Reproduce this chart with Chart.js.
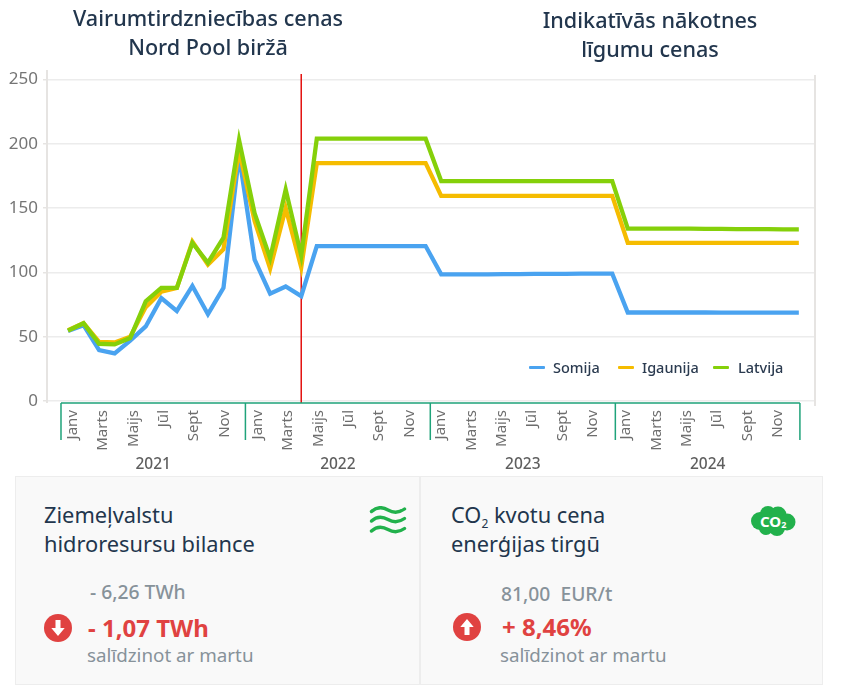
<!DOCTYPE html>
<html>
<head>
<meta charset="utf-8">
<script src="https://cdn.jsdelivr.net/npm/chart.js@4"></script>
<style>
html, body { margin: 0; padding: 0; background: #fff; }
body { position: relative; width: 842px; height: 686px; overflow: hidden; font-family: "Noto Sans", sans-serif; color: #22364d; }
canvas { position: absolute; left: 0; top: 0; }
.t { position: absolute; white-space: nowrap; }
.head { font-size: 21.6px; line-height: 29px; text-align: center; transform: translateX(-50%); color: #22364d; font-weight: 500; }
.card { position: absolute; top: 476px; height: 209px; box-sizing: border-box; background: #f9f9f9; border: 1px solid #ededed; }
.title { font-size: 21.8px; line-height: 29px; color: #22364d; }
.title sub { font-size: 12px; line-height: 0; }
.val { font-size: 19.3px; line-height: 22px; color: #87929a; font-weight: 500; }
.delta { font-size: 24px; line-height: 30px; color: #e04241; font-weight: 700; }
.note { font-size: 18.8px; line-height: 22px; color: #87929a; }
.leg { font-size: 14.5px; line-height: 18px; font-weight: 500; color: #2b3b50; }
.sw { position: absolute; width: 16px; height: 3px; border-radius: 1px; top: 366px; }
svg { position: absolute; }
</style>
</head>
<body>
<canvas id="price-chart" width="842" height="476"></canvas>

<div class="t head" style="left:208px;top:3px">Vairumtirdzniecības cenas<br>Nord Pool biržā</div>
<div class="t head" style="left:650px;top:5px">Indikatīvās nākotnes<br>līgumu cenas</div>

<div id="legend"></div>

<div class="card" style="left:15px;width:405px"></div>
<div class="card" style="left:420px;width:403px"></div>

<div class="t title" style="left:44px;top:500px">Ziemeļvalstu<br>hidroresursu bilance</div>
<div class="t val" style="left:90px;top:581px">- 6,26 TWh</div>
<div class="t delta" style="left:88px;top:613px">- 1,07 TWh</div>
<div class="t note" style="left:87px;top:644px">salīdzinot ar martu</div>

<div class="t title" style="left:451px;top:500px">CO<sub>2</sub> kvotu cena<br>enerģijas tirgū</div>
<div class="t val" style="left:501px;top:583px">81,00 &nbsp;EUR/t</div>
<div class="t delta" style="left:502px;top:612px">+ 8,46%</div>
<div class="t note" style="left:500px;top:644px">salīdzinot ar martu</div>

<svg style="left:44px;top:614px" width="28" height="28" viewBox="0 0 28 28">
	<circle cx="14" cy="14" r="14" fill="#e04241"/>
	<path d="M11.5 6h5v8h4.2L14 22 7.3 14h4.2z" fill="#fff"/>
</svg>
<svg style="left:453px;top:613px" width="28" height="28" viewBox="0 0 28 28">
	<circle cx="14" cy="14" r="14" fill="#e04241"/>
	<path d="M11.5 22h5v-8h4.2L14 6 7.3 14h4.2z" fill="#fff"/>
</svg>

<svg style="left:369px;top:506px" width="38" height="28" viewBox="0 0 38 28" fill="none" stroke="#22b14c" stroke-width="3.4" stroke-linecap="round">
	<path d="M2.5 5.5C8 .5 13 .5 19 4s11 3 16.500-1"/>
	<path d="M2.500 15C8 10 13 10 19 13.500s11 3 16.500-1"/>
	<path d="M2.500 25C8 20 13 20 19 23.500s11 3 16.500-1"/>
</svg>

<svg style="left:750px;top:505px" width="46" height="32" viewBox="0 0 46 32">
	<g fill="#22b14c">
		<circle cx="10" cy="16" r="9"/>
		<circle cx="18" cy="9" r="8"/>
		<circle cx="28" cy="10" r="8.500"/>
		<circle cx="37" cy="17" r="8.500"/>
		<circle cx="27" cy="23" r="8"/>
		<circle cx="16" cy="23" r="7"/>
	</g>
	<text x="10" y="22" font-family="Noto Sans" font-size="15" font-weight="700" fill="#fff">CO<tspan font-size="9" dy="1">2</tspan></text>
</svg>

<script>
const monthLabels = ["Janv", "Marts", "Maijs", "Jūl", "Sept", "Nov"];
const yearLabels = ["2021", "2022", "2023", "2024"];
const seriesNames = ["Somija", "Igaunija", "Latvija"];
const seriesColors = ["#4aa3f0", "#f5bc00", "#85d00a"];

const somija = [
	54.5, 59, 39.5, 37, 47, 58, 80, 70, 89.5, 67.5, 88, 191,
	110, 83.5, 89, 81.5, 120.5, 120.5, 120.5, 120.5, 120.5, 120.5, 120.5, 120.5,
	98.5, 98.5, 98.5, 98.5, 98.6, 98.7, 98.8, 98.8, 98.9, 99, 99, 99,
	68.8, 68.8, 68.8, 68.8, 68.8, 68.8, 68.7, 68.7, 68.7, 68.7, 68.7, 68.7
];
const igaunija = [
	55, 60.5, 46, 45.5, 50, 73, 85, 88, 124, 106, 118, 195,
	140, 103, 150, 104, 185, 185, 185, 185, 185, 185, 185, 185,
	159.5, 159.5, 159.5, 159.5, 159.5, 159.5, 159.5, 159.5, 159.5, 159.5, 159.5, 159.5,
	123, 123, 123, 123, 123, 123, 123, 123, 123, 123, 123, 123
];
const latvija = [
	54.7, 60.5, 44.5, 44, 49, 77.5, 88, 88, 123, 107.5, 127, 203,
	146, 111, 164.5, 113, 204, 204, 204, 204, 204, 204, 204, 204,
	171, 171, 171, 171, 171, 171, 171, 171, 171, 171, 171, 171,
	134, 134, 134, 134, 134, 133.8, 133.8, 133.7, 133.6, 133.6, 133.5, 133.5
];
const allSeries = [somija, igaunija, latvija];

// index of the month where actual prices stop, and edges of the year brackets on the month axis
const dividerMonth = 15;
const yearEdges = [-0.45, 11.41, 23.3, 35.2, 47.07];
const yearTickStart = [0.3, 12.2, 24, 35.9];
const tickStep = 1.95;

const axisGrey = "#e6e4e2";
const bracketGreen = "#1fa37a";

let legendBox = document.getElementById("legend");
let legendPos = [[529, 553], [618, 642], [713, 738]];
seriesNames.forEach((name, i) => {
	legendBox.innerHTML += `<div class="sw" style="left:${legendPos[i][0]}px;background:${seriesColors[i]}"></div>`;
	legendBox.innerHTML += `<div class="t leg" style="left:${legendPos[i][1]}px;top:358px">${name}</div>`;
});

let decorPlugin = {
	id: "decor",
	beforeDatasetsDraw(chart) {
		let { ctx, scales } = chart;
		let x = scales.x;
		let bottom = scales.y.getPixelForValue(0);

		ctx.save();
		// axis frame
		ctx.strokeStyle = axisGrey;
		ctx.lineWidth = 2;
		ctx.beginPath();
		ctx.moveTo(x.left, 70);
		ctx.lineTo(x.left, bottom + 2);
		ctx.moveTo(x.right, 75);
		ctx.lineTo(x.right, bottom + 5);
		ctx.stroke();

		// where the forward prices begin
		let px = x.getPixelForValue(dividerMonth);
		ctx.strokeStyle = "#e3110f";
		ctx.lineWidth = 1.5;
		ctx.beginPath();
		ctx.moveTo(px, 74);
		ctx.lineTo(px, bottom + 2);
		ctx.stroke();
		ctx.restore();
	},
	afterDraw(chart) {
		let { ctx, scales } = chart;
		let x = scales.x;
		let top = scales.y.getPixelForValue(0) + 2;

		ctx.save();
		ctx.strokeStyle = bracketGreen;
		ctx.lineWidth = 1.5;
		ctx.beginPath();
		ctx.moveTo(x.getPixelForValue(yearEdges[0]), top);
		ctx.lineTo(x.getPixelForValue(yearEdges[yearEdges.length - 1]), top);
		yearEdges.forEach((edge) => {
			let px = x.getPixelForValue(edge);
			ctx.moveTo(px, top);
			ctx.lineTo(px, top + 37);
		});
		ctx.stroke();

		ctx.fillStyle = "#5f5f5f";
		ctx.font = "500 15.5px 'Noto Sans'";
		ctx.textAlign = "center";
		ctx.textBaseline = "middle";
		yearLabels.forEach((year, i) => {
			let mid = (yearEdges[i] + yearEdges[i + 1]) / 2;
			ctx.fillText(year, x.getPixelForValue(mid), 465);
		});
		ctx.restore();
	},
};

let ctx = document.getElementById("price-chart").getContext("2d");

new Chart(ctx, {
	type: "line",
	data: {
		datasets: allSeries.map((values, i) => ({
			label: seriesNames[i],
			data: values.map((v, m) => ({ x: m, y: v })),
			borderColor: seriesColors[i],
			borderWidth: 4.3,
			pointRadius: 0,
			tension: 0,
			order: 3 - i,
		})),
	},
	options: {
		animation: false,
		responsive: false,
		layout: { padding: { top: 79.5, right: 27, left: 0, bottom: 0 } },
		plugins: { legend: { display: false }, tooltip: { enabled: false } },
		scales: {
			x: {
				type: "linear",
				min: -1.35,
				max: 48.04,
				border: { display: false },
				grid: { display: false, drawTicks: false },
				afterBuildTicks(scale) {
					let ticks = [];
					yearTickStart.forEach((start) => {
						monthLabels.forEach((_, m) => ticks.push({ value: start + m * tickStep }));
					});
					scale.ticks = ticks;
				},
				afterFit(scale) {
					scale.height = 75;
				},
				ticks: {
					autoSkip: false,
					minRotation: 90,
					maxRotation: 90,
					padding: 9,
					color: "#6d6d6d",
					font: { family: "Noto Sans", size: 15 },
					callback: (value, index) => monthLabels[index % monthLabels.length],
				},
			},
			y: {
				min: 0,
				max: 250,
				border: { display: false },
				grid: { color: "#ececec", lineWidth: 1.5, tickLength: 4, tickColor: axisGrey },
				afterFit(scale) {
					scale.width = 47;
				},
				ticks: {
					stepSize: 50,
					padding: 5,
					color: "#757575",
					font: { family: "Noto Sans", size: 17 },
				},
			},
		},
	},
	plugins: [decorPlugin],
});
</script>
</body>
</html>
